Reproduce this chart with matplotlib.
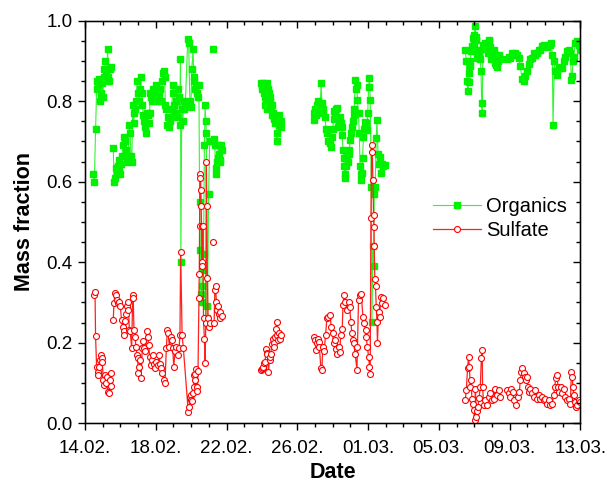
#!/usr/bin/env python3
"""Organics / sulfate mass fraction time series, 14.02.-13.03."""

import matplotlib
matplotlib.use("Agg")
import matplotlib.pyplot as plt
import matplotlib.dates as mdates
import numpy as np
import pandas as pd

NAN = float("nan")
START = pd.Timestamp("2008-02-14")
END = pd.Timestamp("2008-03-13")

# days since 14.02. 00:00; NaN value = gap in the record
org_day = [
    0.48, 0.53, 0.60, 0.66, 0.70, 0.75, 0.79, 0.84, 0.88, 0.93, 0.97, 1.02, 1.06, 1.10,
    1.15, 1.19, 1.24, 1.28, 1.32, 1.37, 1.41, 1.46, 1.53,
    1.60, 1.65, 1.70, 1.75, 1.80, 1.85, 1.90, 1.95, 2.00, 2.05, 2.10, 2.15, 2.20, 2.25,
    2.30, 2.35, 2.40, 2.45, 2.50, 2.55, 2.60, 2.65, 2.70, 2.75, 2.80, 2.85, 2.90, 2.95,
    3.00, 3.05, 3.10, 3.15, 3.20, 3.25, 3.30, 3.35, 3.40, 3.45, 3.50, 3.55, 3.60, 3.65,
    3.70, 3.75, 3.80, 3.85, 3.90, 3.95, 4.00, 4.05, 4.10, 4.15, 4.20, 4.25, 4.30, 4.35,
    4.40, 4.45, 4.50, 4.55, 4.60, 4.65, 4.70, 4.75, 4.80, 4.85, 4.90, 4.95, 5.00, 5.05,
    5.10, 5.15, 5.20, 5.25, 5.30, 5.35, 5.40, 5.42, 5.47, 5.52, 5.57, 5.62, 5.67,
    5.81, 5.86, 5.93, 5.99, 6.04, 6.11, 6.15, 6.19, 6.24, 6.28, 6.33, 6.37, 6.44, 6.48,
    6.53, 6.57, 6.61, 6.64, 6.68, 6.70, 6.75, 6.79, 6.83, 6.86, 6.90, 6.92, 6.99, 7.05,
    7.10, 7.18, 7.25, 7.28,
    7.30, 7.34, 7.38, 7.42, 7.46, 7.50, 7.54, 7.58, 7.62, 7.66, 7.70, 7.73, 8.8,
    9.94, 9.99, 10.03, 10.07, 10.11, 10.15, 10.19, 10.23, 10.27, 10.31, 10.35, 10.39,
    10.43, 10.47, 10.51, 10.55, 10.59, 10.63, 10.67, 10.71, 10.75, 10.79, 10.83, 10.86,
    10.90, 10.94, 10.98, 11.02, 11.06, 11.10, 12.0,
    12.92, 12.97, 13.01, 13.05, 13.10, 13.15, 13.20, 13.24, 13.29, 13.35, 13.39, 13.44,
    13.48, 13.57, 13.62, 13.70, 13.76, 13.82, 13.90, 13.95, 14.00, 14.05, 14.10, 14.14,
    14.19, 14.24, 14.29, 14.34, 14.39, 14.46, 14.52, 14.54, 14.58, 14.62, 14.65, 14.68,
    14.71, 14.75, 14.80, 14.85, 14.90, 14.94, 14.99, 15.03, 15.08, 15.13, 15.18, 15.22,
    15.27, 15.32, 15.37, 15.40, 15.46, 15.50, 15.55, 15.58, 15.61, 15.65, 15.69, 15.74,
    15.79, 15.84, 15.88, 15.93, 15.98, 16.03, 16.08, 16.12, 16.18, 16.22, 16.27, 16.31,
    16.35, 16.40, 16.46, 16.50, 16.56, 16.61, 16.69, 16.74, 16.80, 16.87, 16.95, 19.0,
    21.49, 21.55, 21.59, 21.64, 21.68, 21.70, 21.74, 21.78, 21.81, 21.87, 21.93, 21.97,
    22.00, 22.06, 22.09, 22.12, 22.15, 22.20, 22.25, 22.29, 22.34, 22.38, 22.42, 22.45,
    22.49, 22.55, 22.62, 22.70, 22.75, 22.81, 22.86, 22.91, 22.96, 23.01, 23.06, 23.10,
    23.13, 23.17, 23.21, 23.25, 23.29, 23.33, 23.38, 23.42, 23.47, 23.66,
    23.85, 23.94, 24.04, 24.13, 24.23, 24.32, 24.42, 24.51, 24.60, 24.70, 24.79, 24.89,
    24.98, 25.08, 25.17, 25.27, 25.36, 25.45, 25.55, 25.64, 25.74, 25.83, 25.92, 26.02,
    26.10, 26.21, 26.27, 26.34, 26.41, 26.45, 26.53, 26.58, 26.68, 26.77, 26.87, 26.96,
    27.05, 27.15, 27.24, 27.34, 27.43, 27.49, 27.53, 27.58, 27.62, 27.71, 27.81, 27.94,
    27.99,
]
org_val = [
    0.62, 0.60, 0.73, 0.83, 0.85, 0.84, 0.855, 0.80, 0.82, 0.81, 0.845, 0.81, 0.88, 0.86,
    0.90, 0.87, 0.855, 0.93, 0.86, 0.85, 0.88, 0.885, NAN,
    0.685, 0.60, 0.61, 0.635, 0.62, 0.64, 0.63, 0.655, 0.62, 0.645, 0.665, 0.69, 0.71, 0.70,
    0.68, 0.665, 0.65, 0.66, 0.74, 0.72, 0.665, 0.65, 0.79, 0.745, 0.77, 0.78, 0.80, 0.85,
    0.82, 0.80, 0.83, 0.86, 0.82, 0.79, 0.765, 0.75, 0.735, 0.72, 0.77, 0.765, 0.745, 0.77,
    0.82, 0.81, 0.80, 0.83, 0.82, 0.80, 0.84, 0.805, 0.83, 0.80, 0.815, 0.83, 0.80, 0.85,
    0.87, 0.875, 0.86, 0.79, 0.78, 0.74, 0.76, 0.735, 0.75, 0.76, 0.78, 0.82, 0.84, 0.79,
    0.77, 0.80, 0.76, 0.83, 0.81, 0.74, 0.905, 0.40, 0.78, 0.75, 0.78, 0.80, 0.79,
    0.955, 0.945, 0.80, 0.785, 0.88, 0.93, 0.86, 0.85, 0.83, 0.84, 0.82, 0.81, 0.84, 0.55,
    0.43, 0.32, 0.30, 0.34, 0.38, 0.42, 0.69, 0.79, 0.75, 0.72, 0.29, 0.26, 0.57, 0.70,
    0.70, NAN, 0.93, NAN,
    0.705, 0.69, 0.62, 0.635, 0.65, 0.66, 0.69, 0.67, 0.65, 0.655, 0.69, 0.68, NAN,
    0.845, 0.84, 0.83, 0.845, 0.82, 0.81, 0.79, 0.805, 0.78, 0.845, 0.83, 0.82,
    0.80, 0.81, 0.78, 0.79, 0.765, 0.77, 0.755, 0.76, 0.745, 0.76, 0.72, 0.70,
    0.75, 0.765, 0.74, 0.745, 0.735, 0.75, NAN,
    0.754, 0.77, 0.78, 0.765, 0.79, 0.80, 0.775, 0.785, 0.788, 0.845, 0.795, 0.77,
    0.78, 0.76, 0.73, 0.72, 0.70, 0.696, 0.687, 0.712, 0.73, 0.757, 0.775, 0.770,
    0.78, 0.783, 0.737, 0.75, 0.76, 0.745, 0.737, 0.716, 0.679, 0.66, 0.638, 0.62,
    0.609, 0.64, 0.662, 0.65, 0.67, 0.68, 0.704, 0.72, 0.737, 0.75, 0.766, 0.78,
    0.852, 0.83, 0.84, 0.803, 0.77, 0.72, 0.638, 0.62, 0.605, 0.621, 0.66, 0.712,
    0.73, 0.749, 0.745, 0.728, 0.77, 0.836, 0.857, 0.803, 0.588, 0.252, 0.44, 0.39,
    0.57, 0.588, 0.708, 0.754, 0.67, 0.645, 0.662, 0.621, 0.645, 0.638, 0.642, NAN,
    0.928, 0.90, 0.85, 0.826, 0.847, 0.87, 0.888, 0.90, 0.925, 0.937, 0.957, 0.94,
    0.965, 0.987, 0.96, 0.952, 0.907, 0.92, 0.928, 0.91, 0.904, 0.874, 0.795, 0.770,
    0.94, 0.93, 0.945, 0.935, 0.92, 0.953, 0.95, 0.936, 0.904, 0.91, 0.916, 0.92,
    0.928, 0.895, 0.904, 0.89, 0.886, 0.90, 0.911, 0.915, 0.904, NAN,
    0.904, 0.911, 0.907, 0.92, 0.916, 0.92, 0.916, 0.907, 0.888, 0.855, 0.851, 0.862,
    0.874, 0.893, 0.904, 0.907, 0.92, 0.916, 0.92, 0.928, 0.928, 0.937, 0.94, 0.937,
    0.935, 0.94, 0.94, 0.945, 0.915, 0.74, 0.90, 0.874, 0.866, 0.882, 0.886, 0.882,
    0.90, 0.911, 0.925, 0.928, 0.92, 0.852, 0.863, 0.90, 0.911, 0.945, 0.949, 0.94,
    0.928,
]

so4_day = [
    0.53, 0.57, 0.60, 0.66, 0.72, 0.75, 0.79, 0.85, 0.90, 0.94, 0.98, 1.04, 1.09, 1.13,
    1.18, 1.23, 1.28, 1.36, 1.41, 1.45, 1.47, 1.53,
    1.60, 1.64, 1.70, 1.75, 1.81, 1.89, 1.94, 2.00, 2.07, 2.13, 2.19, 2.22, 2.26, 2.32,
    2.38, 2.41, 2.45, 2.51, 2.56, 2.64, 2.70, 2.73, 2.77, 2.83, 2.88, 2.94, 2.98, 3.02,
    3.07, 3.13, 3.17, 3.24, 3.30, 3.36, 3.41, 3.49, 3.54, 3.60, 3.66, 3.71, 3.77, 3.85,
    3.90, 3.96, 4.03, 4.11, 4.19, 4.24, 4.30, 4.37, 4.45, 4.52, 4.60, 4.66, 4.71, 4.77,
    4.85, 4.90, 4.96, 5.02, 5.09, 5.17, 5.24, 5.32, 5.37, 5.41, 5.49, 5.56,
    5.84, 5.89, 5.95, 5.99, 6.02, 6.06, 6.10, 6.14, 6.18, 6.21, 6.24, 6.28, 6.31, 6.35,
    6.39, 6.44, 6.46, 6.48, 6.50, 6.53, 6.55, 6.57, 6.59, 6.61, 6.64, 6.66, 6.70, 6.75,
    6.79, 6.83, 6.86, 6.88, 6.92, 6.96, 7.01, 7.05, 7.15, 7.25, 7.28,
    7.30, 7.34, 7.38, 7.43, 7.47, 7.52, 7.56, 7.61, 7.66, 7.73, 8.8,
    9.95, 9.99, 10.04, 10.09, 10.13, 10.18, 10.24, 10.27, 10.31, 10.37, 10.43, 10.47,
    10.50, 10.56, 10.62, 10.66, 10.69, 10.75, 10.80, 10.84, 10.88, 10.93, 10.99, 11.05,
    11.10, 12.0,
    12.95, 13.01, 13.07, 13.10, 13.15, 13.20, 13.25, 13.33, 13.39, 13.44, 13.52, 13.60,
    13.67, 13.76, 13.86, 13.91, 13.99, 14.05, 14.14, 14.20, 14.27, 14.33, 14.39, 14.46,
    14.54, 14.58, 14.65, 14.71, 14.80, 14.90, 14.95, 15.03, 15.08, 15.14, 15.18, 15.27,
    15.37, 15.40, 15.46, 15.55, 15.61, 15.71, 15.78, 15.86, 15.89, 15.96, 16.03, 16.08,
    16.12, 16.16, 16.20, 16.23, 16.27, 16.31, 16.33, 16.35, 16.38, 16.42, 16.46, 16.50,
    16.53, 16.59, 16.65, 16.72, 16.78, 16.87, 16.93, 19.0,
    21.49, 21.55, 21.62, 21.68, 21.72, 21.78, 21.81, 21.87, 21.93, 21.96, 22.02, 22.06,
    22.12, 22.15, 22.21, 22.27, 22.34, 22.40, 22.45, 22.47, 22.53, 22.62, 22.72, 22.81,
    22.91, 23.00, 23.09, 23.19, 23.29, 23.38, 23.47, 23.66,
    23.85, 23.94, 24.04, 24.10, 24.19, 24.26, 24.38, 24.45, 24.55, 24.60, 24.66, 24.72,
    24.79, 24.85, 24.93, 24.98, 25.04, 25.11, 25.17, 25.27, 25.36, 25.45, 25.55, 25.64,
    25.74, 25.83, 25.92, 26.02, 26.11, 26.21, 26.30, 26.40, 26.49, 26.55, 26.60, 26.66,
    26.74, 26.81, 26.89, 26.96, 27.05, 27.15, 27.24, 27.34, 27.43, 27.49, 27.53, 27.58,
    27.62, 27.68, 27.73, 27.81, 27.90, 27.97,
]
so4_val = [
    0.318, 0.327, 0.217, 0.14, 0.128, 0.12, 0.14, 0.157, 0.169, 0.161, 0.152, 0.107, 0.095,
    0.12, 0.10, 0.115, 0.078, 0.074, 0.107, 0.124, 0.091, NAN,
    0.256, 0.298, 0.323, 0.318, 0.306, 0.298, 0.30, 0.29, 0.256, 0.24, 0.228, 0.22, 0.253,
    0.27, 0.29, 0.282, 0.302, 0.232, 0.228, 0.186, 0.318, 0.31, 0.232, 0.215, 0.19, 0.169,
    0.161, 0.124, 0.14, 0.157, 0.111, 0.186, 0.203, 0.186, 0.178, 0.228, 0.215, 0.194,
    0.165, 0.144, 0.157, 0.169, 0.148, 0.136, 0.152, 0.144, 0.169, 0.148, 0.136, 0.124,
    0.107, 0.099, 0.186, 0.232, 0.224, 0.19, 0.215, 0.207, 0.186, 0.14, 0.178, 0.19, 0.169,
    0.186, 0.22, 0.426, 0.219, 0.187,
    0.028, 0.04, 0.065, 0.07, 0.058, 0.054, 0.075, 0.09, 0.12, 0.123, 0.107, 0.135, 0.09,
    0.08, 0.13, 0.31, 0.37, 0.49, 0.62, 0.61, 0.58, 0.54, 0.49, 0.40, 0.39, 0.49, 0.26,
    0.21, 0.15, 0.25, 0.65, 0.54, 0.36, 0.26, 0.24, 0.25, NAN, 0.45, NAN,
    0.25, 0.33, 0.34, 0.30, 0.28, 0.29, 0.27, 0.26, 0.275, 0.265, NAN,
    0.132, 0.135, 0.138, 0.14, 0.15, 0.152, 0.185, 0.175, 0.172, 0.128, 0.157, 0.165,
    0.172, 0.197, 0.21, 0.20, 0.19, 0.214, 0.235, 0.252, 0.218, 0.206, 0.223, 0.21,
    0.22, NAN,
    0.215, 0.206, 0.182, 0.198, 0.21, 0.202, 0.19, 0.136, 0.132, 0.19, 0.18, 0.22,
    0.26, 0.264, 0.268, 0.24, 0.223, 0.198, 0.206, 0.185, 0.172, 0.19, 0.177, 0.218,
    0.235, 0.293, 0.318, 0.301, 0.281, 0.301, 0.289, 0.252, 0.223, 0.206, 0.198, 0.172,
    0.132, 0.19, 0.306, 0.318, 0.322, 0.264, 0.248, 0.231, 0.215, 0.19, 0.164, 0.14,
    0.123, 0.509, 0.675, 0.691, 0.604, 0.517, 0.488, 0.44, 0.357, 0.341, 0.289, 0.252,
    0.198, 0.277, 0.264, 0.314, 0.298, 0.31, 0.293, NAN,
    0.057, 0.082, 0.136, 0.165, 0.14, 0.09, 0.107, 0.06, 0.048, 0.032, 0.008, 0.086,
    0.016, 0.029, 0.041, 0.062, 0.09, 0.161, 0.182, 0.09, 0.045, 0.057, 0.045, 0.065,
    0.074, 0.057, 0.061, 0.086, 0.07, 0.082, 0.065, NAN,
    0.082, 0.074, 0.065, 0.086, 0.078, 0.057, 0.045, 0.065, 0.078, 0.107, 0.128, 0.136,
    0.124, 0.115, 0.107, 0.115, 0.09, 0.078, 0.086, 0.074, 0.065, 0.082, 0.061, 0.07,
    0.061, 0.065, 0.057, 0.061, 0.048, 0.057, 0.045, 0.048, 0.07, 0.09, 0.111, 0.119,
    0.09, 0.078, 0.09, 0.074, 0.086, 0.065, 0.057, 0.061, 0.048, 0.128, 0.115, 0.09,
    0.07, 0.053, 0.041, 0.045, 0.057, 0.052,
]

plt.rcParams["font.family"] = ["Liberation Sans", "DejaVu Sans"]
plt.rcParams["font.size"] = 13.5

org_t = START + pd.to_timedelta(org_day, unit="D")
so4_t = START + pd.to_timedelta(so4_day, unit="D")

fig = plt.figure(figsize=(6.11, 4.83), dpi=100)
ax = fig.add_axes([0.139, 0.124, 0.811, 0.833])

ax.plot(org_t, org_val, color="#33f533", lw=0.8, marker="s", ms=3.7,
        mfc="#00f200", mec="#00f200", label="Organics", zorder=2)
ax.plot(so4_t, so4_val, color="#ff2020", lw=0.9, marker="o", ms=4.3,
        mfc="white", mec="#ff0000", mew=0.8, label="Sulfate", zorder=3)

ax.set_xlim(START, END)
ax.set_ylim(0.0, 1.0)
major_days = [14, 18, 22, 26, 1, 5, 9, 13]
ax.xaxis.set_major_locator(mdates.DayLocator(bymonthday=major_days))
ax.xaxis.set_minor_locator(mdates.DayLocator())
ax.xaxis.set_major_formatter(mdates.DateFormatter("%d.%m."))
yticks = np.arange(0.0, 1.01, 0.2)
yminor = np.arange(0.0, 1.01, 0.05)
ax.set_yticks(yticks)
ax.set_yticks(yminor, minor=True)
ax.yaxis.set_major_formatter(matplotlib.ticker.FormatStrFormatter("%.1f"))

# bottom/left ticks point out, top/right ones point in (Origin style)
ax.tick_params(which="both", direction="out", width=1.0)
ax.tick_params(which="major", length=5, labelsize=13.5)
ax.tick_params(which="minor", length=3)
ax.tick_params(axis="x", which="major", pad=7)
ax.tick_params(axis="y", which="major", pad=4)
for s in ax.spines.values():
    s.set_linewidth(1.0)

top = ax.twiny()
top.set_xlim(ax.get_xlim())
top.xaxis.set_major_locator(mdates.DayLocator(bymonthday=major_days))
top.xaxis.set_minor_locator(mdates.DayLocator())
top.tick_params(which="both", direction="in", labeltop=False, width=1.0)
top.tick_params(which="major", length=5)
top.tick_params(which="minor", length=3)

right = ax.twinx()
right.set_ylim(ax.get_ylim())
right.set_yticks(yticks)
right.set_yticks(yminor, minor=True)
right.tick_params(which="both", direction="in", labelright=False, width=1.0)
right.tick_params(which="major", length=5)
right.tick_params(which="minor", length=3)

ax.set_xlabel("Date", fontweight="bold", fontsize=15.5, labelpad=4)
ax.set_ylabel("Mass fraction", fontweight="bold", fontsize=15.5, labelpad=8)

ax.legend(loc="upper left", bbox_to_anchor=(0.703, 0.562), frameon=False,
          borderpad=0, borderaxespad=0, handlelength=2.35, handletextpad=0.25,
          labelspacing=0.25, fontsize=14.5)

fig.savefig("out.png", dpi=100)
